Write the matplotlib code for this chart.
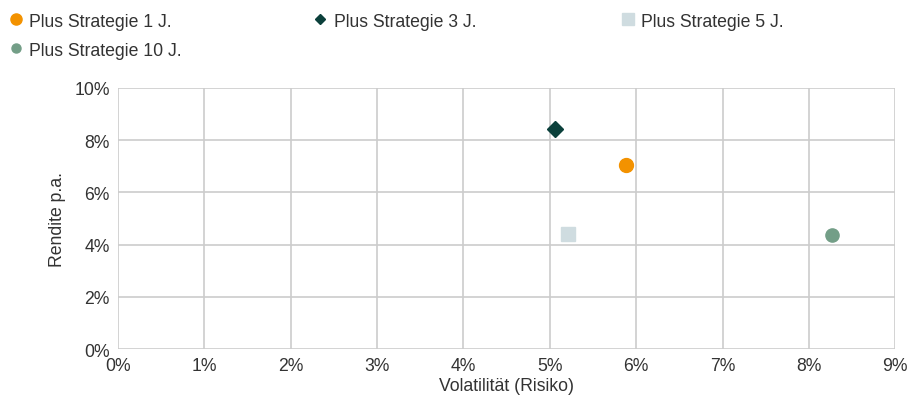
import matplotlib.pyplot as plt
from matplotlib.lines import Line2D
from matplotlib.ticker import FuncFormatter

plt.rcParams["font.family"] = ["Liberation Sans", "DejaVu Sans"]

labels = ["Plus Strategie 1 J.", "Plus Strategie 3 J.", "Plus Strategie 5 J.", "Plus Strategie 10 J."]
volatility = [5.88, 5.06, 5.21, 8.27]
returns = [7.05, 8.42, 4.40, 4.36]
markers = ["o", "D", "s", "o"]
colors = ["#F39200", "#0B403B", "#CFDCE0", "#739E87"]
plot_sizes = [10, 8, 9.5, 9.5]
legend_sizes = [8, 5.5, 8, 6.5]

text_color = "#333333"
fs = 12.7

fig = plt.figure(figsize=(9.22, 4.10), dpi=100)
ax = fig.add_axes([0.128, 0.146, 0.843, 0.637])

for x, y, m, c, s in zip(volatility, returns, markers, colors, plot_sizes):
    ax.plot(x, y, marker=m, color=c, markersize=s, linestyle="none", zorder=3)

ax.set_xlim(0, 9)
ax.set_ylim(0, 10)
ax.set_xticks(range(0, 10))
ax.set_yticks(range(0, 11, 2))
pct = FuncFormatter(lambda v, _: f"{v:.0f}%")
ax.xaxis.set_major_formatter(pct)
ax.yaxis.set_major_formatter(pct)
ax.grid(True, color="#CCCCCC", linewidth=1.2)
ax.set_axisbelow(True)
for sp in ax.spines.values():
    sp.set_visible(False)
ax.tick_params(length=0, labelsize=fs, colors=text_color, pad=6)
ax.set_xlabel("Volatilität (Risiko)", fontsize=fs, color=text_color, labelpad=2)
ax.set_ylabel("Rendite p.a.", fontsize=fs, color=text_color, labelpad=6)

# one legend per column so each column sits where it does in the original
columns = [[0, 3], [1], [2]]
col_x = [0.009, 0.339, 0.672]
for idx, x0 in zip(columns, col_x):
    handles = [
        Line2D([], [], marker=markers[i], color=colors[i], markersize=legend_sizes[i], linestyle="none")
        for i in idx
    ]
    fig.legend(
        handles, [labels[i] for i in idx], loc="upper left", bbox_to_anchor=(x0, 0.967),
        frameon=False, fontsize=fs, labelcolor=text_color, borderpad=0, borderaxespad=0,
        handletextpad=0.3, handlelength=0.9, labelspacing=0.68,
    )

fig.savefig("out.png", dpi=100, facecolor="white")
